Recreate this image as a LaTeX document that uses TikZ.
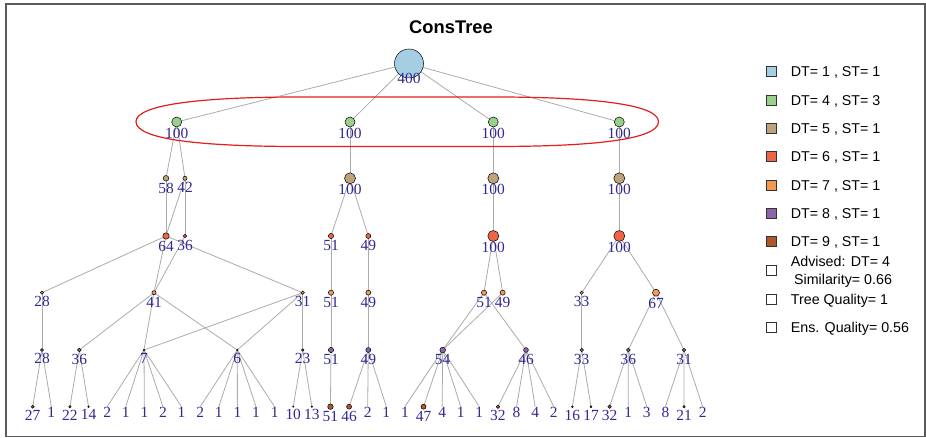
\documentclass[tikz,border=0pt]{standalone}
\usepackage{fontspec}
\setmainfont{Liberation Serif}
\setsansfont{Liberation Sans}
\pgfdeclarelayer{paper}
\pgfdeclarelayer{edges}
\pgfdeclarelayer{labels}
\pgfsetlayers{paper,edges,main,labels}

% vertex fills, one per tree depth (DT)
\definecolor{dtone}{RGB}{166,206,227}
\definecolor{dtfour}{RGB}{152,208,140}
\definecolor{dtfive}{RGB}{190,162,122}
\definecolor{dtsix}{RGB}{240,100,70}
\definecolor{dtseven}{RGB}{245,152,80}
\definecolor{dteight}{RGB}{140,100,170}
\definecolor{dtnine}{RGB}{176,86,42}
\definecolor{lblblue}{RGB}{48,40,148}
\definecolor{linkgray}{RGB}{172,172,172}
\definecolor{hilite}{RGB}{226,30,30}
\definecolor{framegray}{RGB}{90,90,90}

\tikzset{
  vtx/.style={circle, draw=black, line width=0.5bp, inner sep=0pt, outer sep=0pt},
  bare/.style={inner sep=0pt, outer sep=0pt, minimum size=0pt},
  lbl/.style={font=\fontsize{15.5}{16}\selectfont, text=lblblue, inner sep=0pt, anchor=base},
  link/.style={draw=linkgray, line width=0.8bp},
  legbox/.style={draw=black!80, line width=0.8bp, minimum size=10bp, inner sep=0pt},
  legtext/.style={font=\sffamily\fontsize{14.3}{15}\selectfont, inner sep=0pt, anchor=base west},
}

% vertex: name, x, y, value, radius (bp), fill
\newcommand{\treevertex}[6]{%
  \pgfmathsetmacro{\labdrop}{6+2.2*sqrt(#5)+5.2}%
  \ifdim #5pt>0pt
    \node[vtx, fill=#6, minimum size=2*#5 bp] (#1) at (#2,#3) {};
  \else
    \node[bare] (#1) at (#2,#3) {};
  \fi
  \begin{pgfonlayer}{labels}
    \node[lbl] (#1-l) at (#2,#3+\labdrop) {#4};
  \end{pgfonlayer}%
}

\begin{document}
\begin{tikzpicture}[x=1bp,y=-1bp]
\useasboundingbox (0,0) rectangle (926,438);
\begin{pgfonlayer}{paper}
  \fill[white] (0,0) rectangle (926,438);
\end{pgfonlayer}
\draw[framegray, line width=1.5bp] (6,4) rectangle (925.2,436.5);

\node[font=\sffamily\bfseries\fontsize{18.4}{19}\selectfont, anchor=base, inner sep=0pt] (title) at (451,33.3) {ConsTree};

% depth 1
\treevertex{r}{409}{63.5}{400}{14.5}{dtone}
% depth 4
\foreach \n/\x in {a1/176.7, a2/350, a3/493.3, a4/619.3}
  {\treevertex{\n}{\x}{122}{100}{5}{dtfour}}
% depth 5
\foreach \n/\x/\v/\r in {b1/166/58/2.8, b2/185/42/2.1, b3/350/100/5.5, b4/493.3/100/5.5, b5/619.3/100/5.5}
  {\treevertex{\n}{\x}{178.3}{\v}{\r}{dtfive}}
% depth 6
\foreach \n/\x/\v/\r in {c1/166/64/3.2, c2/185/36/1.8, c3/331/51/2.6, c4/368.3/49/2.5, c5/493.3/100/5.5, c6/619.3/100/5.5}
  {\treevertex{\n}{\x}{236}{\v}{\r}{dtsix}}
% depth 7
\foreach \n/\x/\v/\r in {d1/42/28/1.6, d2/154/41/2.1, d3/302.7/31/1.7, d4/331/51/2.6, d5/368.3/49/2.5,
    d6/484/51/2.6, d7/502.7/49/2.5, d8/581.7/33/1.7, d9/656/67/3.5}
  {\treevertex{\n}{\x}{292.7}{\v}{\r}{dtseven}}
% depth 8
\foreach \n/\x/\v/\r in {e1/42/28/1.6, e2/79.3/36/1.9, e3/144/7/0.8, e4/237.3/6/0.8, e5/302.7/23/1.3,
    e6/331/51/2.6, e7/368.3/49/2.5, e8/442.7/54/2.8, e9/526/46/2.4, e10/581.7/33/1.7,
    e11/628.3/36/1.9, e12/684/31/1.7}
  {\treevertex{\n}{\x}{350}{\v}{\r}{dteight}}
% depth 9: leaves, evenly spaced
\foreach \v [count=\i] in {27,1,22,14,2,1,1,2,1,2,1,1,1,1,10,13,51,46,2,1,1,47,4,1,1,32,8,4,2,16,17,32,1,3,8,21,2}
  {%
    \pgfmathsetmacro{\lx}{32.7+18.61*(\i-1)}%
    \pgfmathsetmacro{\lr}{\v>=10 ? 0.052*\v+0.1 : 0}%
    \treevertex{f\i}{\lx}{406.7}{\v}{\lr}{dtnine}%
  }

\begin{pgfonlayer}{edges}
  \foreach \s/\t in {r/a1, r/a2, r/a3, r/a4,
      a1/b1, a1/b2, a2/b3, a3/b4, a4/b5,
      b1/c1, b2/c1, b2/c2, b3/c3, b3/c4, b4/c5, b5/c6,
      c1/d1, c1/d2, c1/d3, c2/d2, c3/d4, c4/d5, c5/d6, c5/d7, c6/d8, c6/d9,
      d1/e1, d2/e2, d2/e3, d2/e4, d3/e3, d3/e4, d3/e5, d4/e6, d5/e7,
      d6/e8, d6/e9, d7/e8, d8/e10, d9/e11, d9/e12,
      e1/f1, e1/f2, e2/f3, e2/f4, e3/f5, e3/f6, e3/f7, e3/f8, e3/f9,
      e4/f10, e4/f11, e4/f12, e4/f13, e4/f14, e5/f15, e5/f16, e6/f17,
      e7/f18, e7/f19, e7/f20, e8/f21, e8/f22, e8/f23, e8/f24, e8/f25,
      e9/f26, e9/f27, e9/f28, e9/f29, e10/f30, e10/f31,
      e11/f32, e11/f33, e11/f34, e12/f35, e12/f36, e12/f37}
    {\draw[link] (\s) -- (\t);}
\end{pgfonlayer}

% highlight round the depth-4 level
\draw[hilite, line width=1.2bp]
  (136,121.7) .. controls (136,104) and (205,97) .. (300,97) -- (495,97)
  .. controls (590,97) and (658.5,104) .. (658.5,121.7)
  .. controls (658.5,140) and (590,146.5) .. (495,146.5) -- (300,146.5)
  .. controls (205,146.5) and (136,140) .. cycle;

% legend
\foreach \c/\t [count=\i] in {dtone/{DT= 1 , ST= 1}, dtfour/{DT= 4 , ST= 3}, dtfive/{DT= 5 , ST= 1},
    dtsix/{DT= 6 , ST= 1}, dtseven/{DT= 7 , ST= 1}, dteight/{DT= 8 , ST= 1}, dtnine/{DT= 9 , ST= 1}}
  {%
    \pgfmathsetmacro{\ly}{71.7+28.33*(\i-1)}%
    \node[legbox, fill=\c] (key\i) at (771,\ly) {};
    \node[legtext] (keytext\i) at (790.7,\ly+5.1) {\t};
  }
\node[legbox, fill=white] (keyadv) at (771,270) {};
\node[legtext] (keyadvA) at (790.7,266.8) {Advised: DT= 4};
\node[legtext] (keyadvB) at (794,284.4) {Similarity= 0.66};
\node[legbox, fill=white] (keytq) at (771,299.3) {};
\node[legtext] (keytqt) at (790.7,304.4) {Tree Quality= 1};
\node[legbox, fill=white] (keyeq) at (771,327.3) {};
\node[legtext] (keyeqt) at (790.7,332.4) {Ens. Quality= 0.56};
\end{tikzpicture}
\end{document}
